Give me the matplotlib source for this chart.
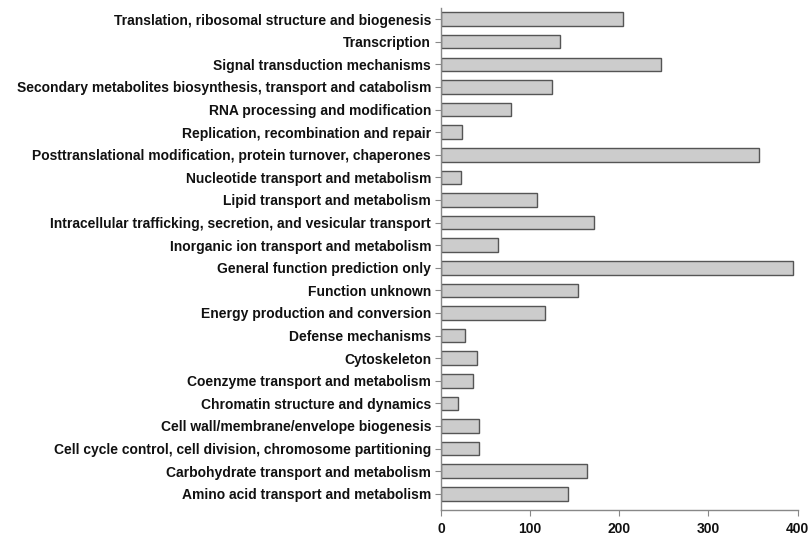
import matplotlib
matplotlib.use("Agg")
import matplotlib.pyplot as plt

categories = [
    "Amino acid transport and metabolism",
    "Carbohydrate transport and metabolism",
    "Cell cycle control, cell division, chromosome partitioning",
    "Cell wall/membrane/envelope biogenesis",
    "Chromatin structure and dynamics",
    "Coenzyme transport and metabolism",
    "Cytoskeleton",
    "Defense mechanisms",
    "Energy production and conversion",
    "Function unknown",
    "General function prediction only",
    "Inorganic ion transport and metabolism",
    "Intracellular trafficking, secretion, and vesicular transport",
    "Lipid transport and metabolism",
    "Nucleotide transport and metabolism",
    "Posttranslational modification, protein turnover, chaperones",
    "Replication, recombination and repair",
    "RNA processing and modification",
    "Secondary metabolites biosynthesis, transport and catabolism",
    "Signal transduction mechanisms",
    "Transcription",
    "Translation, ribosomal structure and biogenesis",
]
values = [143, 164, 43, 43, 19, 36, 41, 27, 117, 154, 395, 64, 172, 108, 22, 357, 24, 79, 124, 247, 134, 204]
xticks = [0, 100, 200, 300, 400]

plt.rcParams['font.family'] = ['Liberation Sans', 'DejaVu Sans']
fig = plt.figure(figsize=(8.09, 5.35), dpi=100)
ax = fig.add_axes([0.545, 0.047, 0.441, 0.938])
pos = list(range(len(categories)))
ax.barh(pos, values, height=0.6, color='#cccccc', edgecolor='#555555', linewidth=1.0)
ax.set_yticks(pos)
ax.set_yticklabels(categories, fontsize=10, fontweight='bold', color='#111111')
ax.set_xticks(xticks)
ax.set_xticklabels([str(t) for t in xticks], fontsize=10, fontweight='bold', color='#111111')
ax.set_xlim(0, 400)
ax.set_ylim(-0.71, 21.49)
for s in ['top', 'right']:
    ax.spines[s].set_visible(False)
for s in ['left', 'bottom']:
    ax.spines[s].set_color('#888888')
    ax.spines[s].set_linewidth(1.0)
ax.tick_params(axis='y', length=4, color='#888888', pad=3)
ax.tick_params(axis='x', length=4, color='#888888', pad=5)
fig.savefig("out.png", dpi=100)
